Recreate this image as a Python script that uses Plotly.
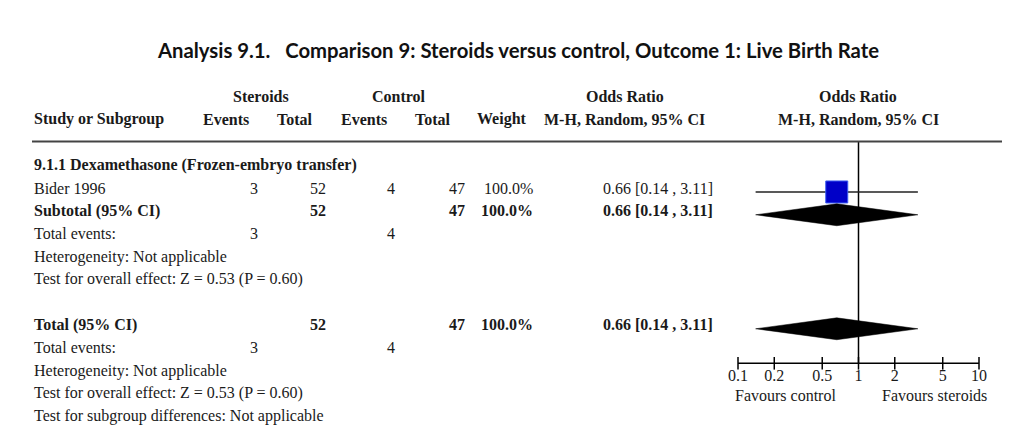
import math
import plotly.graph_objects as go

# ---------------- data ----------------
title_text = "Analysis 9.1.   Comparison 9: Steroids versus control, Outcome 1: Live Birth Rate"
group_label = "Steroids"
control_label = "Control"
subgroup_name = "9.1.1 Dexamethasone (Frozen-embryo transfer)"
studies = ["Bider 1996"]
exp_events = [3]
exp_total = [52]
ctl_events = [4]
ctl_total = [47]
weights = ["100.0%"]
study_or = [0.66]
study_lo = [0.14]
study_hi = [3.11]
subtotal_or = 0.66
subtotal_lo = 0.14
subtotal_hi = 3.11
total_or = 0.66
total_lo = 0.14
total_hi = 3.11
sub_het = "Heterogeneity: Not applicable"
sub_test = "Test for overall effect: Z = 0.53 (P = 0.60)"
tot_het = "Heterogeneity: Not applicable"
tot_test = "Test for overall effect: Z = 0.53 (P = 0.60)"
subgroup_diff = "Test for subgroup differences: Not applicable"
tick_vals = [0.1, 0.2, 0.5, 1, 2, 5, 10]
tick_labels = ["0.1", "0.2", "0.5", "1", "2", "5", "10"]
favours_left = "Favours control"
favours_right = "Favours steroids"

# ---------------- layout constants ----------------
W, H = 1024, 442
ROW0_PX, ROW_PX = 165.3, 22.8
def px2row(p):
    return (p - ROW0_PX) / ROW_PX

SERIF = "Liberation Serif"
FS = 16
TXT = "#1a1a1a"
G_OFF = 0.17  # graphics offset relative to text rows

# column anchors (pixel-like x units)
X_LABEL = 32
X_EEV = 260
X_ETOT = 328
X_CEV = 397
X_CTOT = 467
X_WT = 535
X_ORTXT = 715

fig = go.Figure()
ann = []

def txt(x, r, s, anchor="left", bold=False, size=FS, font=SERIF, color=TXT):
    if bold:
        s = "<b>" + s + "</b>"
    ann.append(dict(x=x, y=r, xref="x", yref="y", text=s, showarrow=False,
                    xanchor=anchor, yanchor="middle",
                    font=dict(family=font, size=size, color=color)))

def fmt_ci(o, lo, hi):
    return f"{o:.2f} [{lo:.2f} , {hi:.2f}]"

# title
txt(517.5, px2row(49.5), title_text, anchor="center", bold=True, size=20.3, font="Lato", color="#111")

# header rows
r_h1, r_h2 = px2row(96), px2row(119.3)
txt(261, r_h1, group_label, "center", True)
txt(399, r_h1, control_label, "center", True)
txt(625, r_h1, "Odds Ratio", "center", True)
txt(858, r_h1, "Odds Ratio", "center", True)
txt(X_LABEL, r_h2, "Study or Subgroup", "left", True)
txt(226, r_h2, "Events", "center", True)
txt(295, r_h2, "Total", "center", True)
txt(364, r_h2, "Events", "center", True)
txt(433, r_h2, "Total", "center", True)
txt(502, r_h2, "Weight", "center", True)
txt(624.5, r_h2, "M-H, Random, 95% CI", "center", True)
txt(858, r_h2, "M-H, Random, 95% CI", "center", True)

# body rows
r = 0
txt(X_LABEL, r, subgroup_name, bold=True)
r += 1
study_rows = []
for i, s in enumerate(studies):
    txt(X_LABEL, r, s)
    txt(X_EEV, r, str(exp_events[i]), "right")
    txt(X_ETOT, r, str(exp_total[i]), "right")
    txt(X_CEV, r, str(ctl_events[i]), "right")
    txt(X_CTOT, r, str(ctl_total[i]), "right")
    txt(X_WT, r, weights[i], "right")
    txt(X_ORTXT, r, fmt_ci(study_or[i], study_lo[i], study_hi[i]), "right")
    study_rows.append(r)
    r += 1
sub_row = r
txt(X_LABEL, r, "Subtotal (95% CI)", bold=True)
txt(X_ETOT, r, str(sum(exp_total)), "right", True)
txt(X_CTOT, r, str(sum(ctl_total)), "right", True)
txt(X_WT, r, "100.0%", "right", True)
txt(X_ORTXT, r, fmt_ci(subtotal_or, subtotal_lo, subtotal_hi), "right", True)
r += 1
txt(X_LABEL, r, "Total events:")
txt(X_EEV, r, str(sum(exp_events)), "right")
txt(X_CEV, r, str(sum(ctl_events)), "right")
r += 1
txt(X_LABEL, r, sub_het)
r += 1
txt(X_LABEL, r, sub_test)
r += 2
tot_row = r
txt(X_LABEL, r, "Total (95% CI)", bold=True)
txt(X_ETOT, r, str(sum(exp_total)), "right", True)
txt(X_CTOT, r, str(sum(ctl_total)), "right", True)
txt(X_WT, r, "100.0%", "right", True)
txt(X_ORTXT, r, fmt_ci(total_or, total_lo, total_hi), "right", True)
r += 1
txt(X_LABEL, r, "Total events:")
txt(X_EEV, r, str(sum(exp_events)), "right")
txt(X_CEV, r, str(sum(ctl_events)), "right")
r += 1
txt(X_LABEL, r, tot_het)
r += 1
txt(X_LABEL, r, tot_test)
r += 1
txt(X_LABEL, r, subgroup_diff)

# ---------------- forest graphics (log axis x2) ----------------
r_line = px2row(141.5)
r_axis = px2row(363.3)

# header rule
fig.add_shape(type="line", xref="x", yref="y", x0=32, x1=1002, y0=r_line, y1=r_line,
              line=dict(color="#444", width=2))
# line of no effect
fig.add_trace(go.Scatter(x=[1, 1], y=[r_line, r_axis], xaxis="x2", yaxis="y", mode="lines",
                         line=dict(color="black", width=1.5), hoverinfo="skip", showlegend=False))
# study CI lines and squares
for i, rr in enumerate(study_rows):
    fig.add_trace(go.Scatter(x=[study_lo[i], study_hi[i]], y=[rr + G_OFF] * 2, xaxis="x2", yaxis="y",
                             mode="lines", line=dict(color="#222", width=1.5),
                             hoverinfo="skip", showlegend=False))
    fig.add_trace(go.Scatter(x=[study_or[i]], y=[rr + G_OFF], xaxis="x2", yaxis="y", mode="markers",
                             marker=dict(symbol="square", size=22, color="#0000c8",
                                         line=dict(color="#3a5cf0", width=1)),
                             hoverinfo="skip", showlegend=False))

def diamond(o, lo, hi, rr):
    h = 0.48
    fig.add_trace(go.Scatter(x=[lo, o, hi, o, lo], y=[rr + G_OFF, rr + G_OFF - h, rr + G_OFF, rr + G_OFF + h, rr + G_OFF],
                             xaxis="x2", yaxis="y", mode="lines", fill="toself",
                             fillcolor="black", line=dict(color="black", width=0.5),
                             hoverinfo="skip", showlegend=False))

diamond(subtotal_or, subtotal_lo, subtotal_hi, sub_row)
diamond(total_or, total_lo, total_hi, tot_row)

# bottom axis
fig.add_trace(go.Scatter(x=[tick_vals[0], tick_vals[-1]], y=[r_axis, r_axis], xaxis="x2", yaxis="y",
                         mode="lines", line=dict(color="black", width=1.5),
                         hoverinfo="skip", showlegend=False))
fig.add_trace(go.Scatter(x=tick_vals, y=[r_axis] * len(tick_vals), xaxis="x2", yaxis="y",
                         mode="markers", marker=dict(symbol="line-ns", size=9,
                                                     line=dict(color="black", width=1.5)),
                         cliponaxis=False, hoverinfo="skip", showlegend=False))
fig.add_trace(go.Scatter(x=tick_vals, y=[px2row(376.5)] * len(tick_vals), xaxis="x2", yaxis="y",
                         mode="text", text=tick_labels, textposition="middle center",
                         textfont=dict(family=SERIF, size=FS, color=TXT),
                         cliponaxis=False, hoverinfo="skip", showlegend=False))
# annotation x on a log axis is given in log10 units
ann.append(dict(x=-0.61, y=px2row(395), xref="x2", yref="y", text=favours_left, showarrow=False,
                xanchor="center", yanchor="middle", font=dict(family=SERIF, size=FS, color=TXT)))
ann.append(dict(x=0.627, y=px2row(395), xref="x2", yref="y", text=favours_right, showarrow=False,
                xanchor="center", yanchor="middle", font=dict(family=SERIF, size=FS, color=TXT)))

fig.update_layout(
    width=W, height=H,
    margin=dict(l=0, r=0, t=0, b=0),
    paper_bgcolor="white", plot_bgcolor="rgba(0,0,0,0)",
    annotations=ann,
    xaxis=dict(range=[0, W], domain=[0, 1], visible=False, fixedrange=True),
    xaxis2=dict(type="log", range=[-1, 1], domain=[738 / W, 979 / W],
                anchor="y", visible=False, fixedrange=True),
    yaxis=dict(range=[px2row(H), px2row(0)], domain=[0, 1], visible=False, fixedrange=True),
    showlegend=False,
)

fig.write_html("out.html", config={"displayModeBar": False},
               post_script="document.body.style.margin='0';document.body.style.overflow='hidden';")
